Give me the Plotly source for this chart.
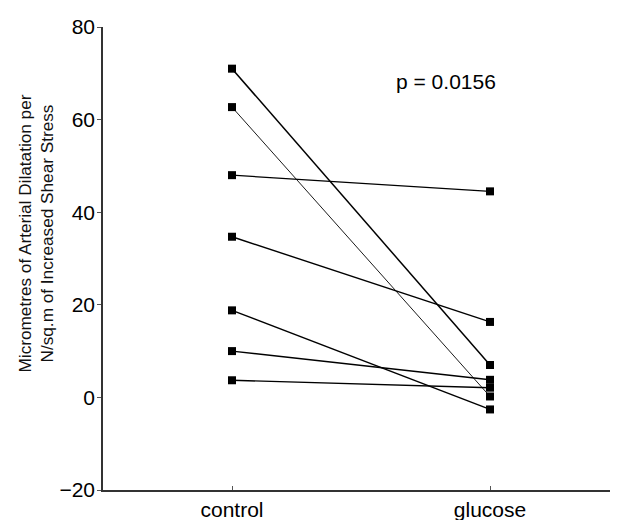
import plotly.graph_objects as go

categories = ["control", "glucose"]
control = [71.0, 62.7, 48.0, 34.7, 18.8, 10.0, 3.7]
glucose = [7.0, 0.2, 44.5, 16.3, -2.6, 3.8, 2.1]
y_ticks = [-20, 0, 20, 40, 60, 80]
p_text = "p = 0.0156"
y_title = "Micrometres of Arterial Dilatation per<br>N/sq.m of Increased Shear Stress"

line_widths = [1.5, 0.9, 1.2, 1.4, 1.4, 1.4, 1.4]

fig = go.Figure()
for c, g, w in zip(control, glucose, line_widths):
    fig.add_trace(go.Scatter(
        x=[1, 2], y=[c, g], mode="lines+markers",
        line=dict(color="black", width=w),
        marker=dict(symbol="square", size=8, color="black"),
        showlegend=False, hoverinfo="skip"))

font_family = "Liberation Sans, Arial, Helvetica, sans-serif"

fig.add_annotation(x=1.83, y=68.2, xref="x", yref="y", text=p_text,
                   showarrow=False, font=dict(size=21, color="black", family=font_family))
fig.add_annotation(x=0, y=0.554, xref="paper", yref="paper", text=y_title,
                   textangle=-90, showarrow=False, xanchor="center", yanchor="middle",
                   xshift=-67,
                   font=dict(size=17.2, color="#111", family=font_family))

fig.update_xaxes(range=[0.5, 2.5], tickvals=[1, 2], ticktext=categories,
                 showline=True, linecolor="#333", linewidth=1.5, ticks="inside",
                 ticklen=4, tickcolor="#555", showgrid=False, zeroline=False,
                 tickfont=dict(size=21, color="black", family=font_family))
fig.update_yaxes(range=[-20, 80], tickvals=y_ticks,
                 showline=True, linecolor="#333", linewidth=1.5, ticks="outside",
                 ticklen=4, tickcolor="#555", showgrid=False, zeroline=False,
                 ticklabelstandoff=-2,
                 tickfont=dict(size=21, color="black", family=font_family))

fig.update_layout(width=618, height=520, autosize=False,
                  margin=dict(l=95, r=7, t=13, b=36),
                  plot_bgcolor="white", paper_bgcolor="white",
                  font=dict(family=font_family))

fig.write_html("out.html", post_script="document.body.style.overflow='hidden';")
